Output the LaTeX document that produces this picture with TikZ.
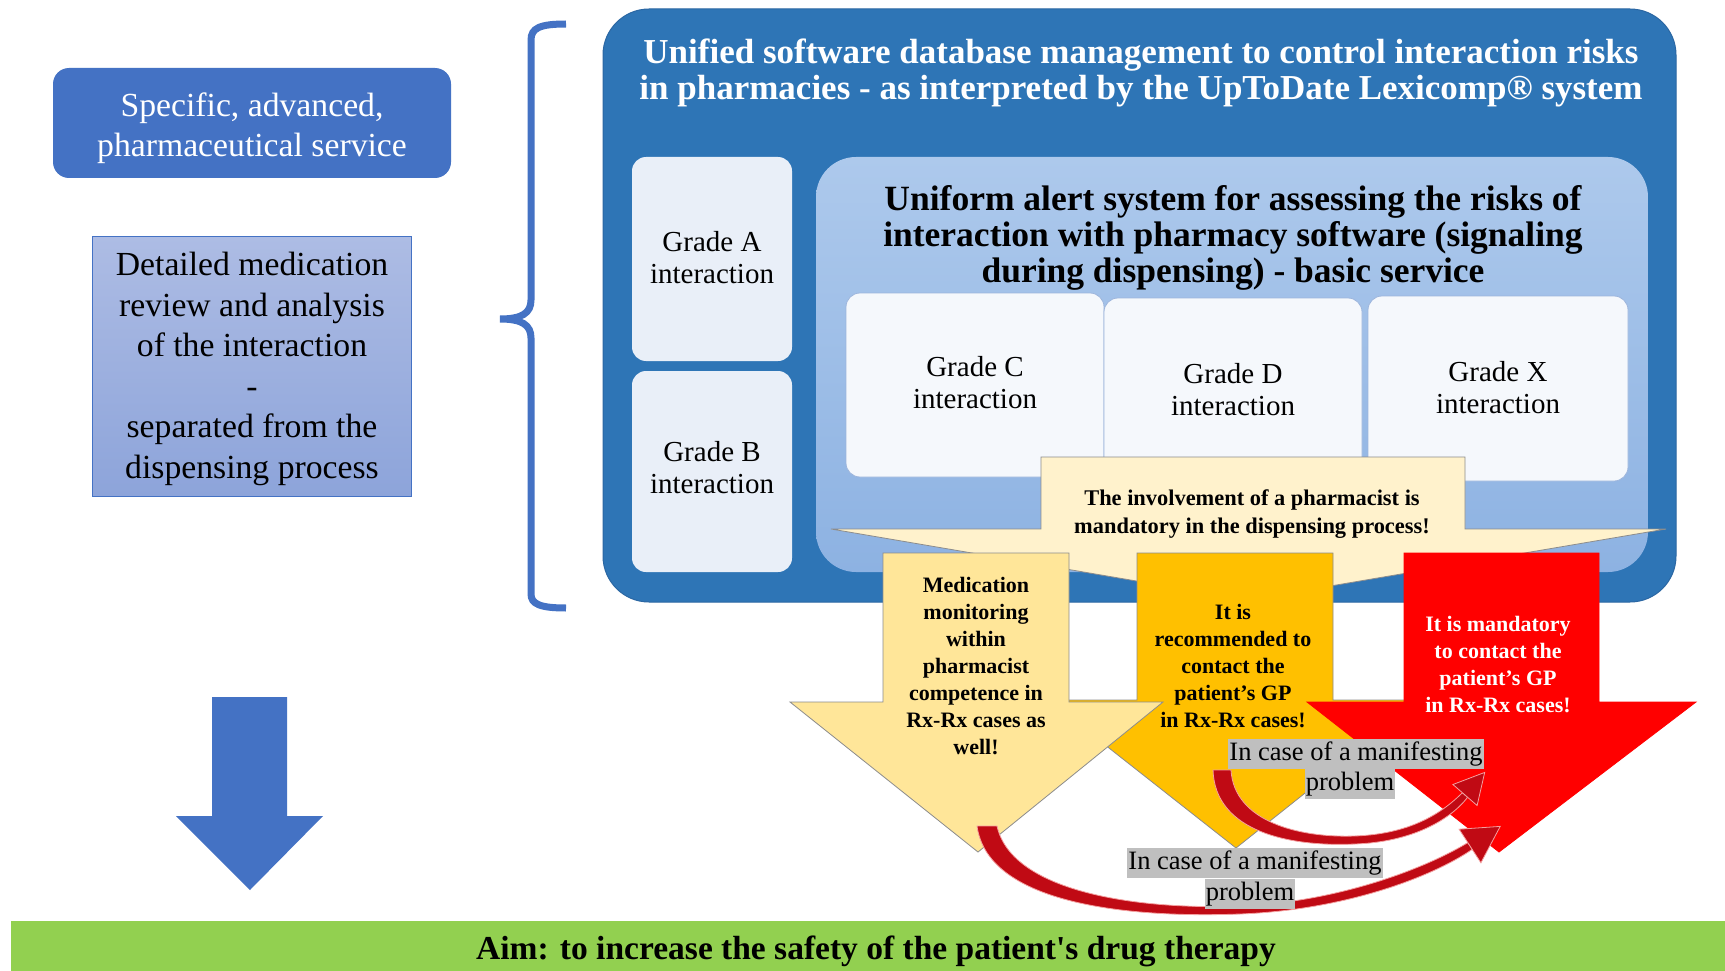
\documentclass[tikz,border=0pt]{standalone}
\usepackage{fontspec}
\setmainfont{Liberation Serif}
\usetikzlibrary{arrows.meta,shadings}
\definecolor{boxblue}{HTML}{4472C4}
\definecolor{bigblue}{HTML}{2E75B6}
\definecolor{bigblueedge}{HTML}{2B67A3}
\definecolor{lightblueA}{HTML}{ADC9EC}
\definecolor{lightblueB}{HTML}{8DB2E2}
\definecolor{gradeAB}{HTML}{E9EFF8}
\definecolor{gradeCDX}{HTML}{F5F8FC}
\definecolor{gradeedge}{HTML}{9DB5DC}
\definecolor{cream}{HTML}{FFF2CC}
\definecolor{lightyellow}{HTML}{FFE699}
\definecolor{orangey}{HTML}{FFC000}
\definecolor{redarrow}{HTML}{FF0000}
\definecolor{darkredarc}{HTML}{C00A14}
\definecolor{tipedge}{HTML}{F4A0A0}
\definecolor{labelgray}{HTML}{BFBFBF}
\definecolor{aimgreen}{HTML}{92D050}
\definecolor{outlinegray}{HTML}{8C8C8C}
\definecolor{reviewtop}{HTML}{ADBCE4}
\definecolor{reviewbot}{HTML}{8DA4DA}
\begin{document}
\begin{tikzpicture}[x=1pt,y=-1pt,
  txt/.style={align=center, inner sep=0pt},
  arrowtxt/.style={txt, font=\bfseries\fontsize{22}{27}\selectfont},
  gradetxt/.style={txt, font=\fontsize{29}{32}\selectfont},
  lefttxt/.style={txt, font=\fontsize{33.7}{40.5}\selectfont},
  hl/.style={fill=labelgray, inner xsep=1pt, inner ysep=0pt, text height=21pt, text depth=8.5pt, font=\fontsize{26.5}{30}\selectfont},
  bigarrow/.style={draw=outlinegray, line width=0.8pt, line join=miter},
  arcband/.style={fill=darkredarc, draw=tipedge, line width=0.8pt},
  gradeedgestyle/.style={draw=gradeedge, line width=0.8pt, rounded corners=14pt},
]
\useasboundingbox (0,0) rectangle (1725,971);
\fill[white] (0,0) rectangle (1725,971);

% left column
\fill[boxblue, rounded corners=16pt] (53,68) rectangle (451,178);
\node[lefttxt, text=white] (specific) at (252,128) {Specific, advanced,\\pharmaceutical service};

\shade[top color=reviewtop, bottom color=reviewbot] (92,236) rectangle (411,496);
\draw[boxblue, line width=0.8pt] (92,236) rectangle (411,496);
\node[lefttxt] (review) at (252,369) {Detailed medication\\review and analysis\\of the interaction\\-\\separated from the\\dispensing process};

% brace
\draw[boxblue, line width=7pt, line cap=butt]
  (566,24) .. controls (540,24) and (531,28) .. (531,40)
  -- (531,300) .. controls (531,313) and (522,319) .. (500,319)
  .. controls (522,319) and (531,325) .. (531,338)
  -- (531,594) .. controls (531,604) and (540,608) .. (566,608);

% blue down arrow
\fill[boxblue] (212,697) -- (287,697) -- (287,816) -- (323,816) -- (250,890) -- (176,816) -- (212,816) -- cycle;

% big box
\draw[bigblueedge, fill=bigblue, line width=1pt, rounded corners=46pt] (603,9) rectangle (1676,602);
\node[txt, text=white, font=\bfseries\fontsize{35}{35.5}\selectfont] (title) at (1141,73)
  {Unified software database management to control interaction risks\\in pharmacies - as interpreted by the UpToDate Lexicomp® system};

% grade A / B
\fill[gradeAB, rounded corners=14pt] (632,157) rectangle (792,361);
\fill[gradeAB, rounded corners=14pt] (632,371) rectangle (792,572);
\node[gradetxt] (gA) at (712,258) {Grade A\\interaction};
\node[gradetxt] (gB) at (712,468) {Grade B\\interaction};

% inner light blue
\shade[top color=lightblueA, bottom color=lightblueB, rounded corners=40pt] (816,157) rectangle (1648,572);
\node[txt, font=\bfseries\fontsize{35.5}{36}\selectfont] (uniform) at (1233,238)
  {Uniform alert system for assessing the risks of\\interaction with pharmacy software (signaling\\during dispensing) - basic service};

% grade C D X
\path[gradeedgestyle, fill=gradeCDX] (846,293) rectangle (1104,477);
\path[gradeedgestyle, fill=gradeCDX] (1104,298) rectangle (1362,481);
\path[gradeedgestyle, fill=gradeCDX] (1368,296) rectangle (1628,481);
\node[gradetxt] (gC) at (975,383) {Grade C\\interaction};
\node[gradetxt] (gD) at (1233,390) {Grade D\\interaction};
\node[gradetxt] (gX) at (1498,388) {Grade X\\interaction};

% callout
\path[bigarrow, fill=cream] (1041,457) -- (1465,457) -- (1465,529) -- (1666,529) -- (1248,600) -- (831,529) -- (1041,529) -- cycle;
\node[txt, font=\bfseries\fontsize{22.4}{28.5}\selectfont] (involve) at (1252,514)
  {The involvement of a pharmacist is\\mandatory in the dispensing process!};

% three arrows
\path[bigarrow, fill=orangey] (1137,553) -- (1333,553) -- (1333,700) -- (1422,700) -- (1236,848) -- (1048,700) -- (1137,700) -- cycle;
\path[bigarrow, fill=lightyellow] (883,553) -- (1069,553) -- (1069,702) -- (1163,702) -- (978,852) -- (790,702) -- (883,702) -- cycle;
\path[bigarrow, draw=redarrow, fill=redarrow] (1404,553) -- (1599,553) -- (1599,702) -- (1696,702) -- (1499,852) -- (1307,702) -- (1404,702) -- cycle;

\node[arrowtxt] (tY) at (976,666) {Medication\\monitoring\\within\\pharmacist\\competence in\\Rx-Rx cases as\\well!};
\node[arrowtxt] (tO) at (1233,666) {It is\\recommended to\\contact the\\patient’s GP\\in Rx-Rx cases!};
\node[arrowtxt, text=white] (tR) at (1498,665) {It is mandatory\\to contact the\\patient’s GP\\in Rx-Rx cases!};

% curved arrows (tapered bands from the yellow / orange arrows to the red arrow)
\coordinate (bigS) at (987,826);
\coordinate (bigTip) at (1500.2,826.4);
\coordinate (smallS) at (1222,770);
\coordinate (smallTip) at (1484.7,772.4);
\path[arcband] (977,826) .. controls (988,906) and (1135,918) .. (1240,914)
  .. controls (1345,910) and (1432,877) .. (1472.2,849.4)
  -- (1467.8,842.6) .. controls (1428,867) and (1340,902) .. (1240,906)
  .. controls (1145,910) and (1012,894) .. (997,826) -- cycle;
\path[arcband, line join=miter] (1480.9,862.8) -- (bigTip) -- (1459.1,829.2) -- cycle;
\path[arcband] (1213,770) .. controls (1215,832) and (1290,847) .. (1355,844)
  .. controls (1412,842) and (1450,820) .. (1467.6,797.3)
  -- (1462.4,792.7) .. controls (1440,815) and (1408,834) .. (1355,836)
  .. controls (1300,838) and (1234,822) .. (1231,770) -- cycle;
\path[arcband, line join=miter] (1477.1,805.5) -- (smallTip) -- (1452.9,784.5) -- cycle;

% labels
\node[hl] (lab1a) at (1356,754) {In case of a manifesting};
\node[hl] (lab1b) at (1350,784) {problem};
\node[hl] (lab2a) at (1255,863) {In case of a manifesting};
\node[hl] (lab2b) at (1250,894) {problem};

% aim band
\fill[aimgreen] (11,921) rectangle (1725,971);
\node[txt, font=\bfseries\fontsize{33.5}{40}\selectfont] (aim) at (876,951) {Aim: to increase the safety of the patient\textquotesingle s drug therapy};
\end{tikzpicture}
\end{document}
